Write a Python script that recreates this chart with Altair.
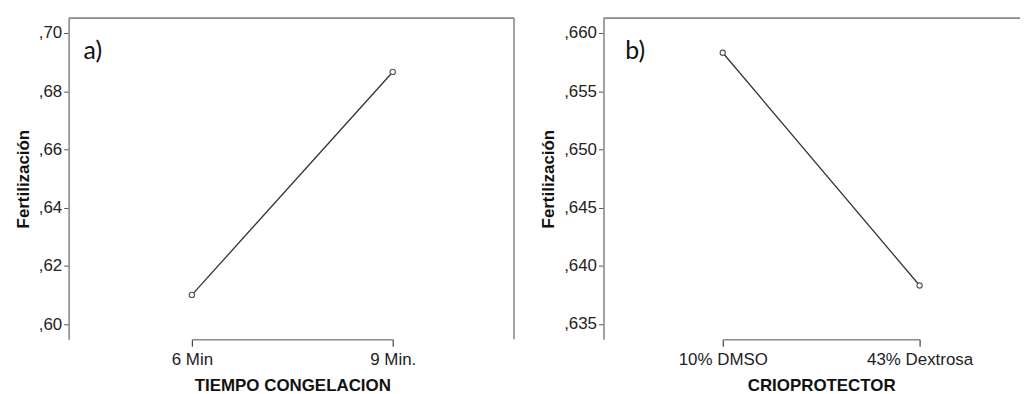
import altair as alt
import pandas as pd

# ---- data ----
tiempo = ["6 Min", "9 Min."]
fert_tiempo = [0.6100, 0.6866]
crio = ["10% DMSO", "43% Dextrosa"]
fert_crio = [0.6583, 0.6383]
ticks_a = [0.60, 0.62, 0.64, 0.66, 0.68, 0.70]
ticks_b = [0.635, 0.640, 0.645, 0.650, 0.655, 0.660]
panel_labels = ["a)", "b)"]

FONT = "Liberation Sans"
FRAME = "#8a8a8a"
LINE = "#333333"

df_a = pd.DataFrame({"cat": tiempo, "val": fert_tiempo})
df_b = pd.DataFrame({"cat": crio, "val": fert_crio})


def y_axis(values, fmt, tpad):
    return alt.Axis(
        values=values,
        labelExpr=f"replace(format(datum.value, '{fmt}'), '0.', ',')",
        title="Fertilización",
        grid=False,
        domainColor=FRAME, domainWidth=1.6,
        tickColor="#555", tickSize=5, tickWidth=1,
        labelFont=FONT, labelFontSize=17, labelColor="#222", labelPadding=2,
        titleFont=FONT, titleFontSize=17, titleFontWeight="bold", titleColor="#111",
        titlePadding=tpad,
    )


def x_axis(title):
    return alt.Axis(
        title=title, labelAngle=0, grid=False,
        domainColor=FRAME, domainWidth=1.6,
        tickColor="#444", tickSize=7, tickWidth=1.2,
        labelFont=FONT, labelFontSize=17, labelColor="#222", labelPadding=5,
        titleFont=FONT, titleFontSize=17, titleFontWeight="bold", titleColor="#111",
        titlePadding=11,
    )


def panel(df, cats, ticks, fmt, ydom, xrange, xtitle, label, width, right_border, tpad, lx):
    x = alt.X("cat:N", sort=cats, scale=alt.Scale(type="point", range=xrange, padding=0),
              axis=x_axis(xtitle))
    y = alt.Y("val:Q", scale=alt.Scale(domain=ydom, nice=False, zero=False),
              axis=y_axis(ticks, fmt, tpad))
    base = alt.Chart(df)
    line = base.mark_line(color=LINE, strokeWidth=1.3).encode(x=x, y=y)
    pts = base.mark_point(shape="circle", size=28, filled=False, stroke="#555",
                          fill="white", fillOpacity=1, strokeWidth=1.1).encode(x=x, y=y)
    txt = alt.Chart(pd.DataFrame({"lab": [label]})).mark_text(
        font="Lato", fontSize=25, align="left", baseline="alphabetic", color="#111"
    ).encode(text="lab:N", x=alt.value(lx), y=alt.value(41))
    top = alt.Chart(pd.DataFrame({"lab": [label]})).mark_rule(color=FRAME, strokeWidth=1.6).encode(
        x=alt.value(0), x2=alt.value("width"), y=alt.value(0))
    layers = [top, line, pts, txt]
    if right_border:
        rb = alt.Chart(pd.DataFrame({"lab": [label]})).mark_rule(color=FRAME, strokeWidth=1.6).encode(
            x=alt.value("width"), y=alt.value(0), y2=alt.value("height"))
        layers.insert(0, rb)
    return alt.layer(*layers).properties(width=width, height=323)


pa = panel(df_a, tiempo, ticks_a, ".2f", [0.5948, 0.7051], [124, 326],
           "TIEMPO CONGELACION", panel_labels[0], 448, True, 6, 15)
pb = panel(df_b, crio, ticks_b, ".3f", [0.63369, 0.66128], [120, 318],
           "CRIOPROTECTOR", panel_labels[1], 419, False, 6, 22)

chart = alt.hconcat(pa, pb, spacing=23).properties(
    padding={"left": 5, "top": 7, "right": 0, "bottom": 0},
    background="white",
).configure_view(stroke="transparent")

chart.save("out.html", embed_options={"renderer": "svg", "actions": False})
